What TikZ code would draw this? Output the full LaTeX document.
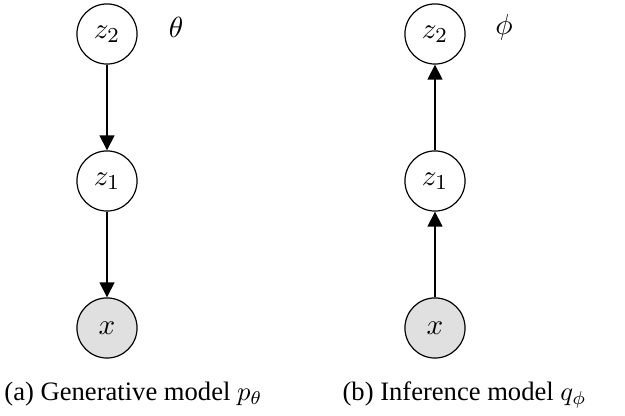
\documentclass[tikz,border=0pt]{standalone}
\usepackage{fontspec}
\setmainfont{Liberation Serif}
\usetikzlibrary{arrows.meta}
\begin{document}
\begin{tikzpicture}[x=0.376pt,y=-0.376pt,
  latent/.style={circle,draw,line width=0.45pt,minimum size=22.6pt,inner sep=0pt,fill=white,font=\fontsize{11}{13}\selectfont},
  observed/.style={latent,fill=black!12},
  edge/.style={line width=0.45pt,-{Triangle[length=5.6pt,width=5.6pt]}},
  param/.style={font=\fontsize{11}{13}\selectfont},
  caption/.style={anchor=base,font=\fontsize{10}{12}\selectfont}]
\useasboundingbox (0,0) rectangle (625,416);
% generative model
\node[latent] (gz2) at (107,34) {$z_2$};
\node[latent] (gz1) at (107,181) {$z_1$};
\node[observed] (gx) at (107,328) {$x$};
\node[param] (theta) at (176,27) {$\theta$};
\draw[edge] (gz2) -- (gz1);
\draw[edge] (gz1) -- (gx);
% inference model
\node[latent] (iz2) at (435,34) {$z_2$};
\node[latent] (iz1) at (435,181) {$z_1$};
\node[observed] (ix) at (435,328) {$x$};
\node[param] (phi) at (504,27) {$\phi$};
\draw[edge] (ix) -- (iz1);
\draw[edge] (iz1) -- (iz2);
% captions
\node[caption] (capa) at (133.5,401) {(a) Generative model $p_\theta$};
\node[caption] (capb) at (464.5,401) {(b) Inference model $q_\phi$};
\end{tikzpicture}
\end{document}
